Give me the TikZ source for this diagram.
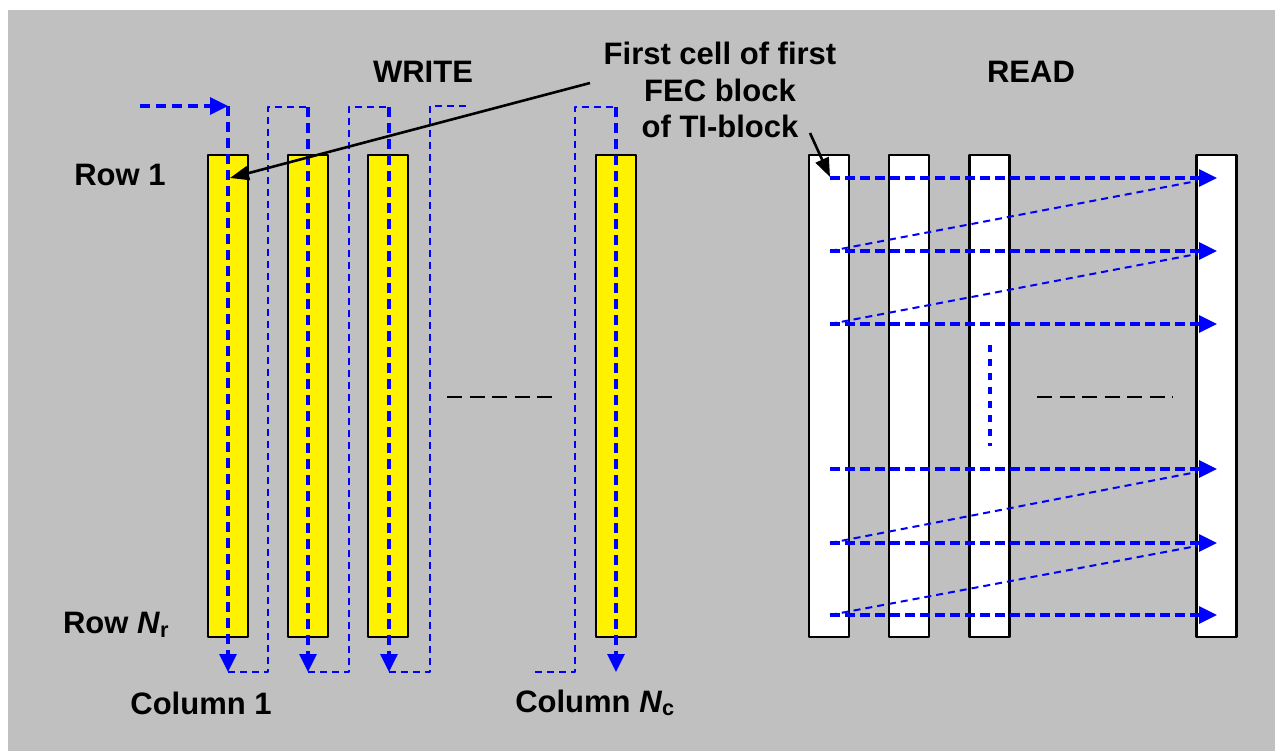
\documentclass[tikz,border=0pt]{standalone}
\usepackage{fontspec}
\setmainfont{Liberation Sans}
\usetikzlibrary{arrows.meta}
\definecolor{bggray}{RGB}{192,192,192}
\tikzset{
  wcol/.style={draw=black,line width=2pt,fill=yellow,minimum width=40pt,minimum height=482pt,inner sep=0pt},
  rcol/.style={wcol,fill=white,line width=2.5pt},
  lbl/.style={font=\fontsize{31}{36.5}\selectfont\bfseries,inner sep=0pt,align=center},
  flowtip/.style={-{Triangle[length=18pt,width=17pt]}},
  flow/.style={blue,line width=3.2pt,dash pattern=on 10pt off 6pt},
  link/.style={blue,line width=2pt,dash pattern=on 7pt off 5pt},
  gap/.style={black,line width=2.5pt,dash pattern=on 15pt off 7.5pt},
  note/.style={black,line width=2.6pt,-{Triangle[length=19pt,width=14pt]}},
}
\begin{document}
\begin{tikzpicture}[x=1pt,y=-1pt,line join=bevel]
%%
\useasboundingbox (0,0) rectangle (1275,751);
\fill [bggray] (8,10) rectangle (1275,751);
%% write side
\node (w1) at (228,396) [wcol] {};
  \node (w2) at (308,396) [wcol] {};
  \node (w3) at (388,396) [wcol] {};
  \node (wN) at (616,396) [wcol] {};
\node (write) at (423,72) [lbl] {WRITE};
  \node (row1) at (120,175) [lbl] {Row 1};
  \node (rowN) at (116,625) [lbl] {Row \textit{N}\textsubscript{r}};
  \node (col1) at (201,703) [lbl] {Column 1};
  \node (colN) at (595,703) [lbl] {Column \textit{N}\textsubscript{c}};
%
\coordinate (s) at (140,106);
  \coordinate (t1) at (228,106);
  \coordinate (b1) at (228,672);
  \coordinate (u1) at (268,672);
  \coordinate (v1) at (268,107);
  \coordinate (t2) at (308,107);
  \coordinate (b2) at (308,672);
  \coordinate (u2) at (349,672);
  \coordinate (v2) at (349,107);
  \coordinate (t3) at (389,107);
  \coordinate (b3) at (389,672);
  \coordinate (u3) at (430,672);
  \coordinate (v3) at (430,106);
  \coordinate (e3) at (466,106);
  \coordinate (sN) at (535,672);
  \coordinate (uN) at (575,672);
  \coordinate (vN) at (575,107);
  \coordinate (tN) at (616,107);
  \coordinate (bN) at (616,672);
\draw [flow,flowtip] (s) -- (t1);
  \draw [flow,flowtip] (t1) -- (b1);
  \draw [link] (b1) -- (u1) -- (v1) -- (t2);
  \draw [flow,flowtip] (t2) -- (b2);
  \draw [link] (b2) -- (u2) -- (v2) -- (t3);
  \draw [flow,flowtip] (t3) -- (b3);
  \draw [link] (b3) -- (u3) -- (v3) -- (e3);
  \draw [link] (sN) -- (uN) -- (vN) -- (tN);
  \draw [flow,flowtip] (tN) -- (bN);
\coordinate (g1) at (447,397);
  \coordinate (g2) at (553,397);
  \draw [gap] (g1) -- (g2);
%% read side
\node (r1) at (829,396) [rcol] {};
  \node (r2) at (909,396) [rcol] {};
  \node (r3) at (989.5,396) [rcol] {};
  \node (rN) at (1216.5,396) [rcol] {};
\node (read) at (1031,72) [lbl] {READ};
%
\coordinate (a1) at (830,178);
  \coordinate (z1) at (1217,178);
  \coordinate (d1) at (1197,181);
  \coordinate (a2) at (830,251);
  \coordinate (z2) at (1217,251);
  \coordinate (d2) at (1197,254);
  \coordinate (a3) at (830,324);
  \coordinate (z3) at (1217,324);
  \coordinate (a4) at (830,469);
  \coordinate (z4) at (1217,469);
  \coordinate (d4) at (1197,472);
  \coordinate (a5) at (830,543);
  \coordinate (z5) at (1217,543);
  \coordinate (d5) at (1197,546);
  \coordinate (a6) at (830,615);
  \coordinate (z6) at (1217,615);
\draw [flow,flowtip,dash pattern=on 10pt off 5pt] (a1) -- (z1);
  \draw [flow,flowtip,dash pattern=on 10pt off 5pt] (a2) -- (z2);
  \draw [flow,flowtip,dash pattern=on 10pt off 5pt] (a3) -- (z3);
  \draw [flow,flowtip,dash pattern=on 10pt off 5pt] (a4) -- (z4);
  \draw [flow,flowtip,dash pattern=on 10pt off 5pt] (a5) -- (z5);
  \draw [flow,flowtip,dash pattern=on 10pt off 5pt] (a6) -- (z6);
  \draw [link] (a2) -- (d1);
  \draw [link] (a3) -- (d2);
  \draw [link] (a5) -- (d4);
  \draw [link] (a6) -- (d5);
\coordinate (m1) at (990,345);
  \coordinate (m2) at (990,446);
  \draw [flow,dash pattern=on 7pt off 7pt] (m1) -- (m2);
\coordinate (h1) at (1037,397);
  \coordinate (h2) at (1173,397);
  \draw [gap] (h1) -- (h2);
%% first cell note
\node (first) at (720,90) [lbl] {First cell of first\\FEC block\\of TI-block};
  \coordinate (n1) at (590,83);
  \coordinate (f1) at (230,178);
  \coordinate (n2) at (810,133);
  \coordinate (f2) at (830,177);
  \draw [note] (n1) -- (f1);
  \draw [note] (n2) -- (f2);
%
\end{tikzpicture}
\end{document}
